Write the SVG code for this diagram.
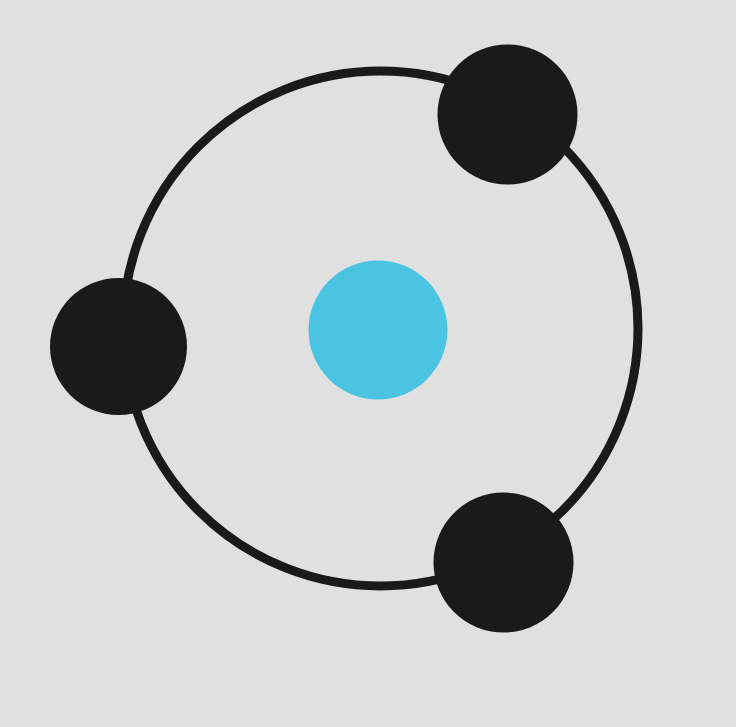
<svg xmlns="http://www.w3.org/2000/svg" width="736" height="727" viewBox="0 0 736 727">
  <style>
    .ring { fill: none; stroke: #1a1a1a; stroke-width: 9; }
    .node { fill: #1a1a1a; }
    .core { fill: #4bc4e2; }
  </style>
  <rect width="736" height="727" fill="#e0e0e0"/>
  <g id="connectors">
    <circle class="ring" cx="380.5" cy="328.5" r="257.5"/>
  </g>
  <g id="core">
    <circle class="core" cx="378" cy="330" r="69.5"/>
  </g>
  <g id="node-top-right">
    <circle class="node" cx="507.5" cy="114.5" r="70"/>
  </g>
  <g id="node-left">
    <circle class="node" cx="118.5" cy="346.5" r="68.5"/>
  </g>
  <g id="node-bottom-right">
    <circle class="node" cx="503.5" cy="562.5" r="70"/>
  </g>
</svg>
